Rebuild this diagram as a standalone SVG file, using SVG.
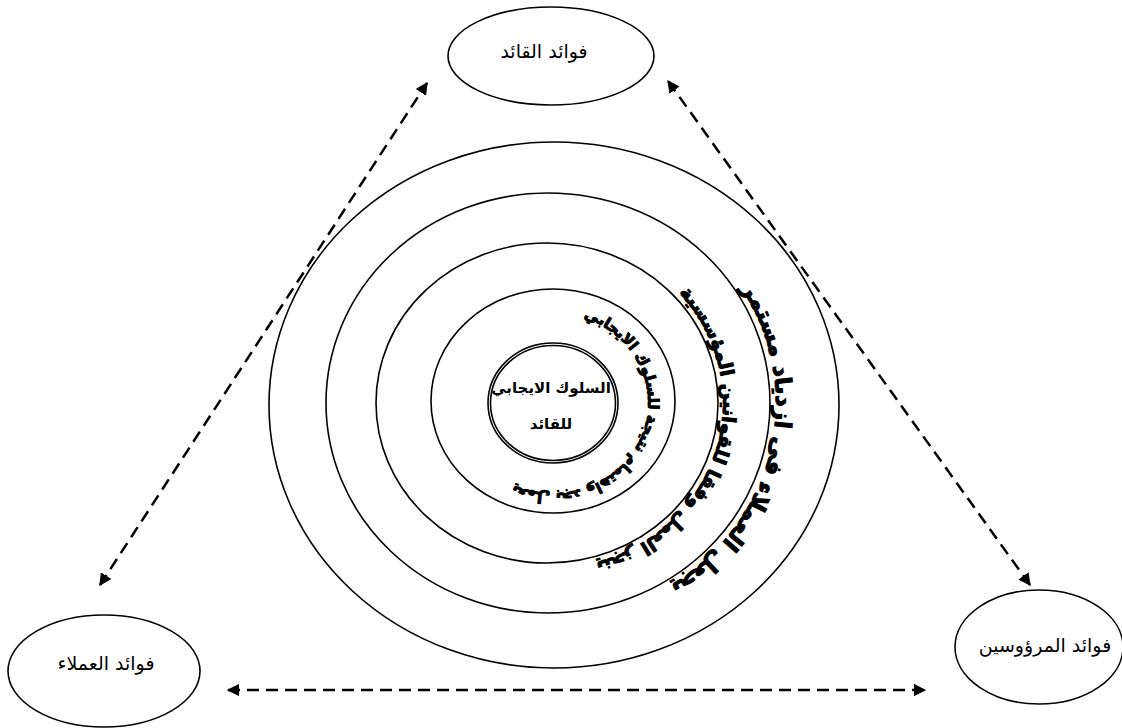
<svg xmlns="http://www.w3.org/2000/svg" width="1122" height="728" viewBox="0 0 1122 728">
<style>
.ring{fill:none;stroke:#000;stroke-width:1.6}
.node{fill:#fff;stroke:#000;stroke-width:1.6}
.lbl{font-family:"DejaVu Sans","Liberation Sans",sans-serif;font-size:19px;fill:#000;text-anchor:middle}
.ctr{font-family:"DejaVu Sans","Liberation Sans",sans-serif;font-size:15px;font-weight:bold;fill:#000;text-anchor:middle}
.arc{font-family:"DejaVu Sans","Liberation Sans",sans-serif;font-weight:bold;fill:#000;stroke:#000;stroke-width:1}
.dash{fill:none;stroke:#000;stroke-width:2.5;stroke-dasharray:12 7}
</style>
<defs>
<marker id="ah" viewBox="0 0 10 10" refX="9" refY="5" markerWidth="5" markerHeight="5" orient="auto-start-reverse" markerUnits="strokeWidth">
<path d="M0,0 L10,5 L0,10 Z" fill="#000"/>
</marker>
<path id="pInner" d="M569.5,314.4 A95,90 0 1 1 501.3,478.5"/>
<path id="pMid" d="M635,259.2 A176,166 0 0 1 540.9,568.9"/>
<path id="pOuter" d="M694.6,237.5 A228,216 0 0 1 607,611.6"/>
</defs>

<g id="rings">
<ellipse class="ring" cx="554" cy="405" rx="285" ry="263"/>
<ellipse class="ring" cx="548" cy="403" rx="222" ry="210"/>
<ellipse class="ring" cx="547" cy="403" rx="171" ry="160"/>
<ellipse class="ring" cx="553" cy="401" rx="122" ry="112"/>
</g>

<g id="center">
<ellipse class="ring" cx="553" cy="403" rx="65" ry="60"/>
<ellipse class="ring" cx="553" cy="403" rx="62.5" ry="57.5"/>
<text class="ctr" x="551" y="393">السلوك الايجابي</text>
<text class="ctr" x="551" y="429">للقائد</text>
</g>

<g id="arc-texts">
<text class="arc" font-size="15"><textPath href="#pInner" startOffset="50%" text-anchor="middle">يعمل بجد واهتمام نتيجة للسلوك الايجابي</textPath></text>
<text class="arc" font-size="19"><textPath href="#pMid" startOffset="50%" text-anchor="middle">ينجز العمل وفقا للقوانين المؤسسية</textPath></text>
<text class="arc" font-size="23"><textPath href="#pOuter" startOffset="50%" text-anchor="middle">يجعل العملاء فى ازدياد مستمر</textPath></text>
</g>

<g id="node-leader">
<ellipse class="node" cx="551" cy="56" rx="103" ry="49"/>
<text class="lbl" x="544" y="58">فوائد القائد</text>
</g>

<g id="node-clients">
<ellipse class="node" cx="104" cy="671" rx="96" ry="56"/>
<text class="lbl" x="106" y="670">فوائد العملاء</text>
</g>

<g id="node-subordinates">
<ellipse class="node" cx="1039" cy="647" rx="84" ry="57"/>
<text class="lbl" x="1045" y="652">فوائد المرؤوسين</text>
</g>

<g id="connectors">
<line class="dash" x1="100" y1="585" x2="427" y2="83" marker-start="url(#ah)" marker-end="url(#ah)"/>
<line class="dash" x1="1030" y1="585" x2="668" y2="81" marker-start="url(#ah)" marker-end="url(#ah)"/>
<line class="dash" x1="228" y1="690" x2="925" y2="690" marker-start="url(#ah)" marker-end="url(#ah)"/>
</g>
</svg>
